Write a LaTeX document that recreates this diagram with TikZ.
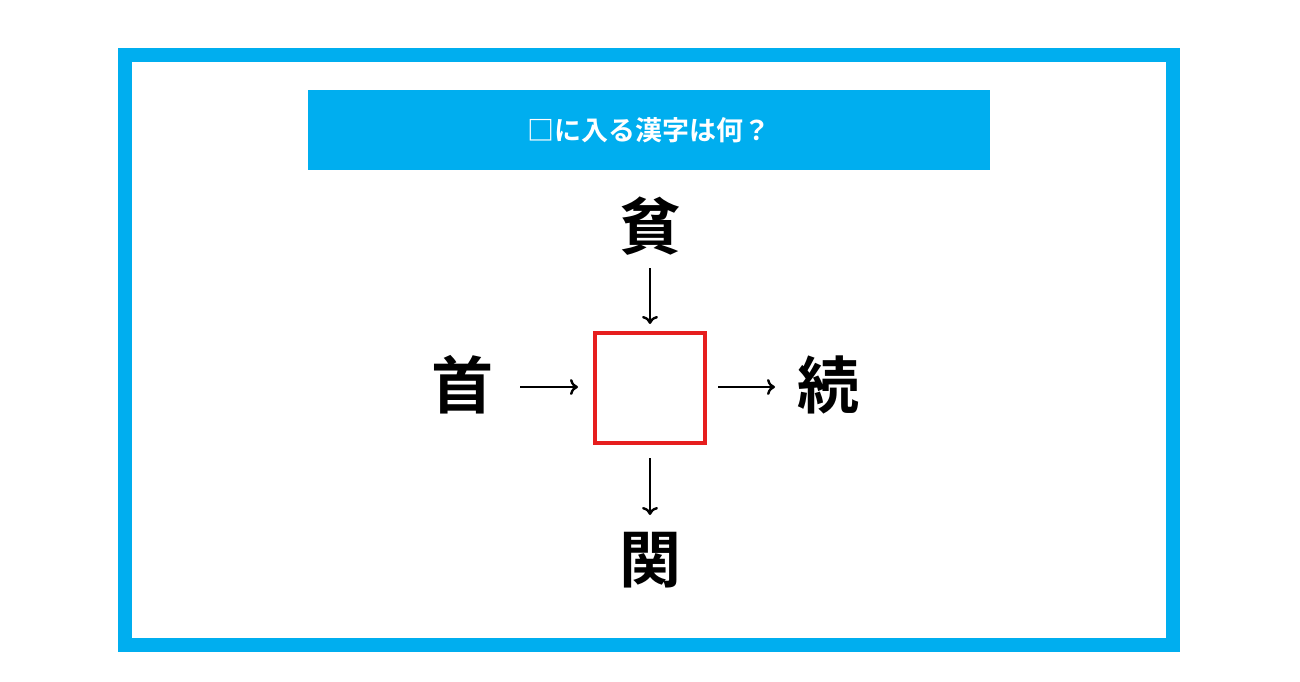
\documentclass[tikz,border=0pt]{standalone}
\usepackage{fontspec}
\usetikzlibrary{arrows.meta}
\newfontfamily\jp{Noto Sans CJK JP}[BoldFont={Noto Sans CJK JP Bold}]
\definecolor{frameblue}{RGB}{0,174,239}
\definecolor{boxred}{RGB}{230,30,30}
\begin{document}
\begin{tikzpicture}[x=1pt,y=-1pt,
  kanji/.style={font=\jp\bfseries\fontsize{62}{62}\selectfont, inner sep=0pt},
  arr/.style={-{To[length=8pt,width=16pt,line width=2.4pt]}, line width=2.4pt}]
\useasboundingbox (0,0) rectangle (1300,682);
\draw[frameblue, line width=14pt] (125,55) rectangle (1173,645);
\fill[frameblue] (308,90) rectangle (990,170);
\node[text=white, font=\jp\bfseries\fontsize{27}{27}\selectfont] (title) at (649,130) {□に入る漢字は何？};
\node[kanji] (top) at (650,226) {貧};
\node[kanji] (left) at (462,385) {首};
\node[kanji] (right) at (828,385) {続};
\node[kanji] (bot) at (650,560) {関};
\node[draw=boxred, line width=3.5pt, minimum size=110pt, inner sep=0pt] (box) at (650,388) {};
\coordinate (t1) at (650,268); \coordinate (t2) at (650,324);
\coordinate (l1) at (520,387); \coordinate (l2) at (578,387);
\coordinate (r1) at (718,387); \coordinate (r2) at (775,387);
\coordinate (b1) at (650,458); \coordinate (b2) at (650,515);
\draw[arr] (t1) -- (t2);
\draw[arr] (l1) -- (l2);
\draw[arr] (r1) -- (r2);
\draw[arr] (b1) -- (b2);
\end{tikzpicture}
\end{document}
